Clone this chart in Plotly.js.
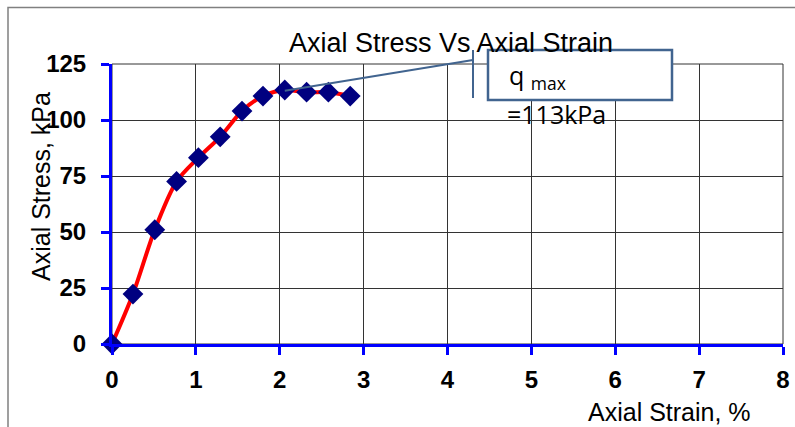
<!DOCTYPE html>
<html>
<head>
<meta charset="utf-8">
<script src="https://cdn.plot.ly/plotly-3.0.1.min.js"></script>
<style>html,body{margin:0;padding:0;background:#fff;}#chart{width:795px;height:427px;}</style>
</head>
<body>
<div id="chart"></div>
<script>
// Data
const strain = [0, 0.25, 0.51, 0.77, 1.03, 1.29, 1.55, 1.80, 2.06, 2.32, 2.58, 2.84];
const stress = [0, 22.3, 51, 72.6, 83.2, 92.5, 104, 110.7, 113.4, 112.4, 112.4, 110.7];
const xTicks = [0, 1, 2, 3, 4, 5, 6, 7, 8];
const yTicks = [0, 25, 50, 75, 100, 125];
const titleText = 'Axial Stress Vs Axial Strain';
const xTitle = 'Axial Strain, %';
const yTitle = 'Axial Stress, kPa';
const calloutLabel = 'q <sub>max</sub>';
const calloutValue = '=113kPa';

const xRange = [0, 8], yRange = [0, 125];
let peak = 0;
stress.forEach((v, i) => { if (v > stress[peak]) peak = i; });

const W = 795, H = 427, L = 112, R = 12, T = 64, B = 83;
const pw = W - L - R, ph = H - T - B;
const px = p => (p - L) / pw;        // pixel x -> paper x
const py = p => (H - B - p) / ph;    // pixel y -> paper y

const BLUE = '#0000ff';
const tickFont = {family: 'Liberation Sans, Arial, sans-serif', size: 24, color: '#000', weight: 'bold'};

const traces = [
  {x: strain, y: stress, type: 'scatter', mode: 'lines', line: {color: '#ff0000', width: 4, shape: 'spline', smoothing: 0.8}, hoverinfo: 'skip', showlegend: false},
  {x: strain, y: stress, type: 'scatter', mode: 'markers', marker: {symbol: 'diamond', size: 16, color: '#000080'}, showlegend: false, cliponaxis: false}
];

const layout = {
  width: W, height: H,
  margin: {l: L, r: R, t: T, b: B, pad: 0},
  paper_bgcolor: '#fff', plot_bgcolor: '#fff',
  showlegend: false,
  title: {text: titleText, x: 451 / W, xanchor: 'center', y: 1 - 43 / H, yanchor: 'middle',
          font: {family: 'Liberation Sans, Arial, sans-serif', size: 27, color: '#000'}},
  xaxis: {range: xRange, tickvals: xTicks, ticktext: xTicks.map(String), showgrid: true, gridcolor: '#333', gridwidth: 1,
          zeroline: false, showline: true, linecolor: BLUE, linewidth: 3, ticks: 'outside', ticklen: 8, tickwidth: 3, tickcolor: BLUE,
          tickfont: tickFont, ticklabelstandoff: 4, fixedrange: true},
  yaxis: {range: yRange, tickvals: yTicks, ticktext: yTicks.map(String), showgrid: true, gridcolor: '#333', gridwidth: 1,
          zeroline: false, showline: true, linecolor: BLUE, linewidth: 3, ticks: 'outside', ticklen: 8, tickwidth: 3, tickcolor: BLUE,
          tickfont: tickFont, ticklabelstandoff: 10, fixedrange: true},
  xaxis2: {overlaying: 'x', matches: 'x', anchor: 'y', side: 'bottom', tickvals: xTicks, ticks: 'inside', ticklen: 7, tickwidth: 3, tickcolor: BLUE,
           showticklabels: false, showgrid: false, zeroline: false, showline: false},
  yaxis2: {overlaying: 'y', matches: 'y', anchor: 'x', side: 'left', tickvals: yTicks, ticks: 'inside', ticklen: 7, tickwidth: 3, tickcolor: BLUE,
           showticklabels: false, showgrid: false, zeroline: false, showline: false},
  shapes: [
    // outer chart frame (cut off on right and bottom)
    {type: 'path', xref: 'paper', yref: 'paper', path: `M ${px(8)} ${py(440)} L ${px(8)} ${py(7.5)} L ${px(800)} ${py(7.5)}`,
     line: {color: '#808080', width: 1.5}, layer: 'below'},
    // plot border top/right
    {type: 'rect', xref: 'paper', yref: 'paper', x0: 0, x1: 1, y0: 0, y1: 1, line: {color: '#333', width: 1}, layer: 'below'},
    // callout leader line
    {type: 'line', xref: 'paper', yref: 'paper', x0: strain[peak] / xRange[1], y0: stress[peak] / yRange[1] - 0.003,
     x1: px(473), y1: py(60), line: {color: '#41648f', width: 2}},
    {type: 'line', xref: 'paper', yref: 'paper', x0: px(473), x1: px(473), y0: py(50), y1: py(98), line: {color: '#41648f', width: 2}},
    // callout box
    {type: 'rect', xref: 'paper', yref: 'paper', x0: px(488), x1: px(672), y0: py(100), y1: py(50),
     line: {color: '#41648f', width: 2.5}, fillcolor: '#fff'}
  ],
  annotations: [
    {text: yTitle, xref: 'paper', yref: 'paper', x: px(41), y: py(187), textangle: -90, showarrow: false,
     xanchor: 'center', yanchor: 'middle', font: {family: 'Liberation Sans, Arial, sans-serif', size: 25, color: '#000'}},
    {text: xTitle, xref: 'paper', yref: 'paper', x: px(669), y: py(412), showarrow: false,
     xanchor: 'center', yanchor: 'middle', font: {family: 'Liberation Sans, Arial, sans-serif', size: 25, color: '#000'}},
    {text: calloutLabel, xref: 'paper', yref: 'paper', x: px(507), y: py(77), showarrow: false,
     xanchor: 'left', yanchor: 'middle', font: {family: 'Open Sans, Liberation Sans, sans-serif', size: 25, color: '#000'}},
    {text: calloutValue, xref: 'paper', yref: 'paper', x: px(505), y: py(114), showarrow: false,
     xanchor: 'left', yanchor: 'middle', font: {family: 'Open Sans, Liberation Sans, sans-serif', size: 25, color: '#000'}}
  ]
};

Plotly.newPlot('chart', traces, layout, {displayModeBar: false, staticPlot: true});
</script>
</body>
</html>
